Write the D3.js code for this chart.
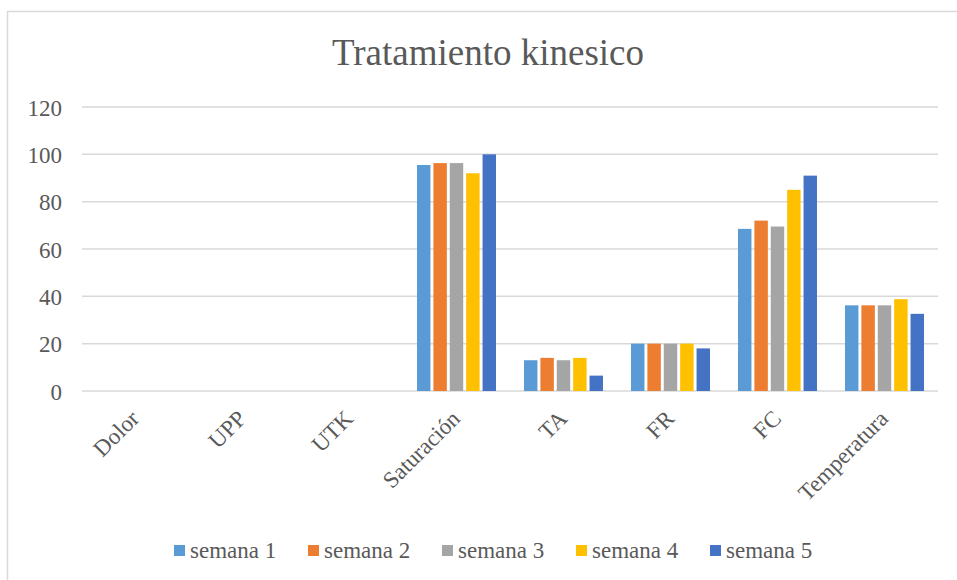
<!DOCTYPE html>
<html>
<head>
<meta charset="utf-8">
<script src="https://cdn.jsdelivr.net/npm/d3@7"></script>
<style>
  body { margin: 0; background: #fff; }
  svg text { font-family: "Liberation Serif", "DejaVu Serif", "Times New Roman", Times, serif !important; fill: #595959; }
</style>
</head>
<body>
<div class="grafico"></div>
<script>
/*Datos del gráfico*/
const categorias = ['Dolor', 'UPP', 'UTK', 'Saturación', 'TA', 'FR', 'FC', 'Temperatura'];
const series = ['semana 1', 'semana 2', 'semana 3', 'semana 4', 'semana 5'];
const semana1 = [0, 0, 0, 95.5, 13, 20, 68.5, 36.2];
const semana2 = [0, 0, 0, 96.3, 14, 20, 72, 36.2];
const semana3 = [0, 0, 0, 96.3, 13, 20, 69.5, 36.2];
const semana4 = [0, 0, 0, 92, 14, 20, 85, 38.8];
const semana5 = [0, 0, 0, 100, 6.5, 18, 91, 32.6];
const yTicks = [0, 20, 40, 60, 80, 100, 120];
const colores = ['#5B9BD5', '#ED7D31', '#A5A5A5', '#FFC000', '#4472C4'];

const valores = [semana1, semana2, semana3, semana4, semana5];
const fuente = '"Liberation Serif", "DejaVu Serif", serif';

const w = 957;
const h = 580;
const margin = { left: 82, right: 19, top: 107, bottom: 189 };

const svg = d3.select('.grafico')
  .append('svg')
  .attr('width', w)
  .attr('height', h);

/*Borde del área del gráfico*/
svg.append('rect')
  .attr('x', 7.5)
  .attr('y', 11.5)
  .attr('width', w)
  .attr('height', h)
  .attr('fill', 'none')
  .attr('stroke', '#d9d9d9')
  .attr('stroke-width', 1.5);

/*Título*/
svg.append('text')
  .attr('x', 488)
  .attr('y', 65)
  .attr('text-anchor', 'middle')
  .style('font-family', fuente)
  .style('font-size', '37px')
  .text('Tratamiento kinesico');

/*Escalas*/
const x0 = d3.scaleBand()
  .domain(categorias)
  .range([margin.left, w - margin.right])
  .paddingInner(0.262)
  .paddingOuter(0.131);

const x1 = d3.scaleBand()
  .domain(series)
  .range([0, x0.bandwidth()])
  .paddingInner(0.18);

const yScale = d3.scaleLinear()
  .domain([0, 120])
  .range([h - margin.bottom, margin.top]);

/*Líneas de cuadrícula*/
svg.append('g')
  .selectAll('line')
  .data(yTicks)
  .enter()
  .append('line')
  .attr('x1', margin.left)
  .attr('x2', w - margin.right)
  .attr('y1', (d) => yScale(d))
  .attr('y2', (d) => yScale(d))
  .attr('stroke', '#d9d9d9')
  .attr('stroke-width', 1.5);

/*Eje y*/
const yAxis = d3.axisLeft(yScale).tickValues(yTicks).tickSize(0).tickPadding(0);
const gy = svg.append('g')
  .attr('transform', 'translate(62,0)')
  .call(yAxis)
  .attr('font-family', fuente);
gy.select('.domain').remove();
gy.selectAll('text')
  .style('font-family', fuente)
  .style('font-size', '23px')
  .attr('dy', '0.35em');

/*Barras*/
const grupos = svg.append('g')
  .selectAll('g')
  .data(categorias)
  .enter()
  .append('g')
  .attr('transform', (d) => `translate(${x0(d)},0)`);

grupos.selectAll('rect')
  .data((d, i) => series.map((s, j) => ({ serie: s, valor: valores[j][i], color: colores[j] })))
  .enter()
  .append('rect')
  .attr('x', (d) => x1(d.serie))
  .attr('y', (d) => yScale(d.valor))
  .attr('width', x1.bandwidth())
  .attr('height', (d) => yScale(0) - yScale(d.valor))
  .attr('fill', (d) => d.color);

/*Eje x*/
const xAxis = d3.axisBottom(x0).tickSize(0).tickPadding(0);
const gx = svg.append('g')
  .attr('transform', `translate(0,${yScale(0)})`)
  .call(xAxis)
  .attr('font-family', fuente);
gx.select('.domain').remove();
gx.selectAll('text')
  .style('font-family', fuente)
  .style('font-size', '23px')
  .attr('text-anchor', 'end')
  .attr('dy', null)
  .attr('y', null)
  .attr('transform', 'translate(5,29) rotate(-45)');

/*Leyenda*/
const leyenda = svg.append('g')
  .selectAll('g')
  .data(series)
  .enter()
  .append('g')
  .attr('transform', (d, i) => `translate(${174 + i * 134},0)`);

leyenda.append('rect')
  .attr('x', 0)
  .attr('y', 545)
  .attr('width', 11)
  .attr('height', 11)
  .attr('fill', (d, i) => colores[i]);

leyenda.append('text')
  .attr('x', 16)
  .attr('y', 558)
  .style('font-family', fuente)
  .style('font-size', '23px')
  .text((d) => d);
</script>
</body>
</html>
